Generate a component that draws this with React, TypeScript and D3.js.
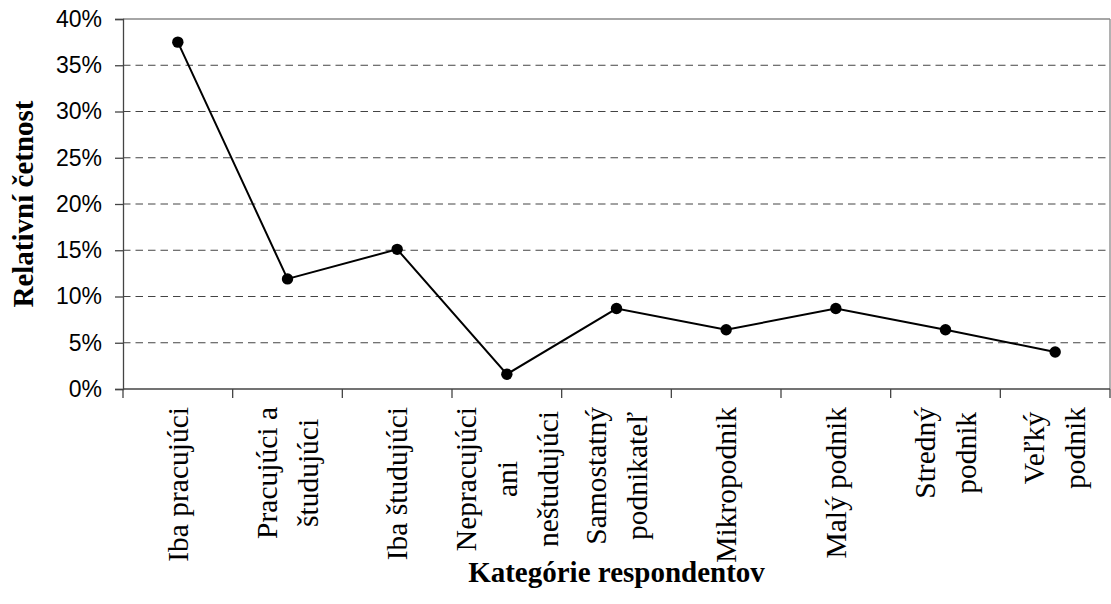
import React, { useEffect, useRef } from "react";
import * as d3 from "d3";

const categories: string[][] = [
  ["Iba pracujúci"],
  ["Pracujúci a", "študujúci"],
  ["Iba študujúci"],
  ["Nepracujúci", "ani", "neštudujúci"],
  ["Samostatný", "podnikateľ"],
  ["Mikropodnik"],
  ["Malý podnik"],
  ["Stredný", "podnik"],
  ["Veľký", "podnik"],
];
const values: number[] = [37.5, 11.9, 15.1, 1.6, 8.7, 6.4, 8.7, 6.4, 4.0];
const yTicks: number[] = [0, 5, 10, 15, 20, 25, 30, 35, 40];
const yTitle = "Relativní četnost";
const xTitle = "Kategórie respondentov";

const W = 1111;
const H = 604;
const M = { left: 123, right: 1110, top: 19, bottom: 389 };

export default function App() {
  const ref = useRef<SVGSVGElement | null>(null);
  useEffect(() => {
    const svg = d3.select(ref.current);
    svg.selectAll("*").remove();
    const idx = categories.map((_, i) => i);
    const x = d3.scaleBand<number>().domain(idx).range([M.left, M.right]).padding(0);
    const y = d3.scaleLinear().domain([0, 40]).range([M.bottom, M.top]);
    const serif = "'Liberation Serif', 'Times New Roman', serif";
    const sans = "'Liberation Sans', Arial, sans-serif";

    // gridlines
    svg.append("g")
      .selectAll("line")
      .data(yTicks.filter((t) => t > 0 && t < 40))
      .join("line")
      .attr("x1", M.left)
      .attr("x2", M.right)
      .attr("y1", (d) => y(d))
      .attr("y2", (d) => y(d))
      .attr("stroke", "#444")
      .attr("stroke-width", 1)
      .attr("stroke-dasharray", "7.5,5");

    // border top/right
    svg.append("line").attr("x1", M.left).attr("x2", M.right).attr("y1", M.top).attr("y2", M.top)
      .attr("stroke", "#888").attr("stroke-width", 1.3);
    svg.append("line").attr("x1", M.right).attr("x2", M.right).attr("y1", M.top).attr("y2", M.bottom)
      .attr("stroke", "#888").attr("stroke-width", 1.3);

    // y axis
    const yAxis = d3.axisLeft(y).tickValues(yTicks).tickSize(8).tickPadding(13)
      .tickFormat((d) => `${d}%`);
    const gy = svg.append("g").attr("transform", `translate(${M.left},0)`).call(yAxis);
    gy.select(".domain").attr("stroke", "#444").attr("stroke-width", 1.3);
    gy.selectAll(".tick line").attr("stroke", "#444").attr("stroke-width", 1.3);
    gy.selectAll(".tick text").attr("font-family", sans).attr("font-size", 23).attr("fill", "#000");

    // x axis: ticks at band boundaries
    const gx = svg.append("g");
    gx.append("line").attr("x1", M.left).attr("x2", M.right).attr("y1", M.bottom).attr("y2", M.bottom)
      .attr("stroke", "#444").attr("stroke-width", 1.3);
    const bounds = idx.map((i) => (x(i) as number)).concat([M.right]);
    gx.selectAll("line.tk").data(bounds).join("line").attr("class", "tk")
      .attr("x1", (d) => d).attr("x2", (d) => d)
      .attr("y1", M.bottom).attr("y2", M.bottom + 9)
      .attr("stroke", "#444").attr("stroke-width", 1.3);

    // category labels
    const fs = 29.5;
    const spacing = 41;
    const labelTop = 407;
    categories.forEach((lines, i) => {
      const cx = (x(i) as number) + x.bandwidth() / 2;
      const g = svg.append("g");
      const texts = lines.map((ln) =>
        g.append("text").text(ln).attr("font-family", serif).attr("font-size", fs).attr("fill", "#000")
      );
      const maxLen = d3.max(texts, (t) => (t.node() as SVGTextElement).getComputedTextLength()) || 0;
      const yc = labelTop + maxLen / 2;
      texts.forEach((t, j) => {
        const off = (j - (lines.length - 1) / 2) * spacing;
        t.attr("text-anchor", "middle")
          .attr("dy", "0.33em")
          .attr("transform", `translate(${cx + off},${yc}) rotate(-90)`);
      });
    });

    // line + markers
    const line = d3.line<number>()
      .x((_, i) => (x(i) as number) + x.bandwidth() / 2)
      .y((d) => y(d));
    svg.append("path").datum(values).attr("d", line).attr("fill", "none")
      .attr("stroke", "#000").attr("stroke-width", 2);
    svg.append("g").selectAll("circle").data(values).join("circle")
      .attr("cx", (_, i) => (x(i) as number) + x.bandwidth() / 2)
      .attr("cy", (d) => y(d))
      .attr("r", 5.7)
      .attr("fill", "#000");

    // titles
    svg.append("text").text(yTitle)
      .attr("font-family", serif).attr("font-weight", "bold").attr("font-size", 29)
      .attr("text-anchor", "middle")
      .attr("transform", `translate(33,${(M.top + M.bottom) / 2}) rotate(-90)`);
    svg.append("text").text(xTitle)
      .attr("font-family", serif).attr("font-weight", "bold").attr("font-size", 29)
      .attr("text-anchor", "middle")
      .attr("x", (M.left + M.right) / 2).attr("y", 582);
  }, []);

  return (
    <svg
      ref={ref}
      width={W}
      height={H}
      style={{ position: "absolute", left: 0, top: 0, background: "#fff" }}
    />
  );
}
